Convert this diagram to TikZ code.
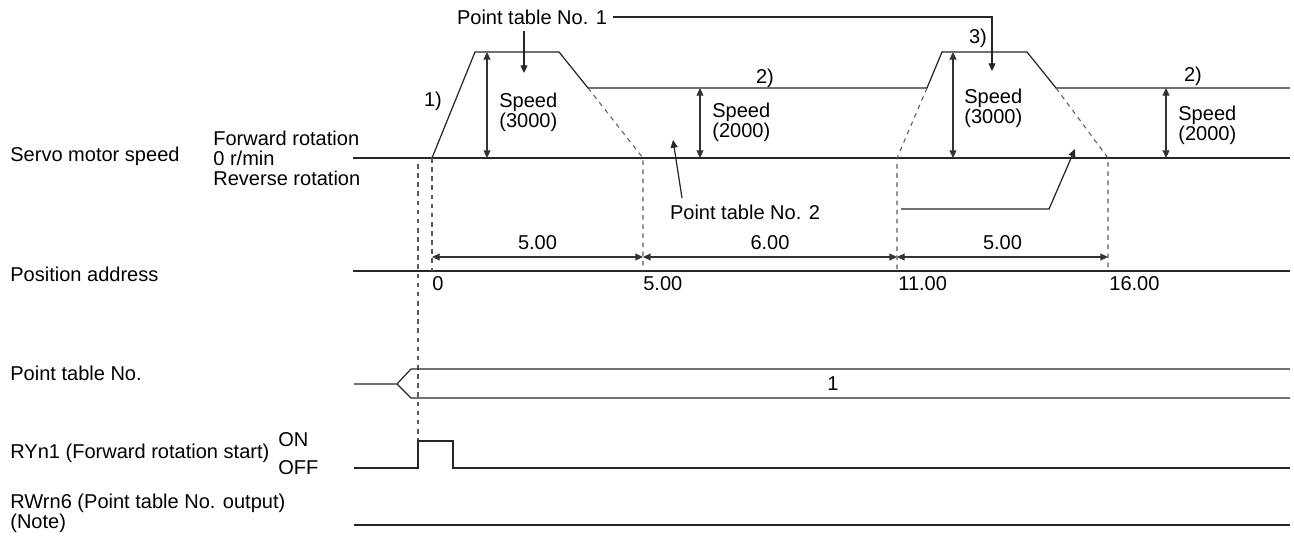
\documentclass[tikz,border=0pt]{standalone}
\usepackage{fontspec}
\setmainfont{Liberation Sans}
\usetikzlibrary{arrows.meta,positioning}

\tikzset{
  >={Triangle[length=4.4pt,width=4pt]},
  sig/.style={line width=0.7pt, black!85},
  dim/.style={line width=0.6pt, black!80},
  guide/.style={line width=0.6pt, black!65, dash pattern=on 2.6pt off 2.6pt},
  txt/.style={inner xsep=0pt, inner ysep=0pt, align=left, text=black},
  note/.style={inner sep=3.5pt, text=black},
}

\begin{document}
\begin{tikzpicture}[x=0.02cm, y=-0.02cm, font=\fontsize{11.4}{11.4}\selectfont]
  \useasboundingbox (0,0) rectangle (1294,547);

  % Row labels
  \node[txt, anchor=west] (lspd) at (10,156) {Servo motor speed};
  \node[txt, anchor=west] (ldir) at (213,158) {Forward rotation\\0 r/min\\Reverse rotation};
  \node[txt, anchor=west] (lpos) at (10,274) {Position address};
  \node[txt, anchor=west] (lptn) at (10,373) {Point table No.};
  \node[txt, anchor=west] (lry) at (10,453) {RYn1 (Forward rotation start)};
  \node[txt, anchor=west] (lon) at (278,440) {ON};
  \node[txt, anchor=west] (loff) at (278,468) {OFF};
  \node[txt, anchor=west] (lrw) at (10,513) {RWrn6 (Point table No. output)\\(Note)};

  % Speed trace
  \coordinate (s0) at (353,158);
  \coordinate (a0) at (432,158);
  \coordinate (a1) at (475,52);
  \coordinate (a2) at (559,52);
  \coordinate (a3) at (588,88);
  \coordinate (b0) at (927,88);
  \coordinate (b1) at (942,52);
  \coordinate (b2) at (1027,52);
  \coordinate (b3) at (1056,88);
  \coordinate (z1) at (643,158);
  \coordinate (z2) at (897,158);
  \coordinate (z3) at (1108,158);
  \draw[sig] (s0) -- (1290,158);
  \draw[sig] (a0) -- (a1) -- (a2) -- (a3) -- (b0) -- (b1) -- (b2) -- (b3) -- (1290,88);

  % Position address
  \coordinate (p0) at (353,271);
  \coordinate (p1) at (1290,271);
  \draw[sig] (p0) -- (p1);
  \node[txt, anchor=west] (x0) at (432,284) {0};
  \node[txt, anchor=west] (x1) at (643,284) {5.00};
  \node[txt, anchor=west] (x2) at (898,284) {11.00};
  \node[txt, anchor=west] (x3) at (1109,284) {16.00};

  % Dashed guides
  \draw[guide] (a3) -- (z1) -- (z1 |- p0);
  \draw[guide] (b0) -- (z2) -- (z2 |- p0);
  \draw[guide] (b3) -- (z3) -- (z3 |- p0);
  \draw[guide] (a0) -- (a0 |- p0);
  \draw[guide] (418,164) -- (418,441);

  % Speed arrows
  \draw[<->, dim] (487,52) -- (487,158);
  \node[txt, anchor=west] (sp1) at (499,112) {Speed\\(3000)};
  \draw[<->, dim] (700,88) -- (700,158);
  \node[txt, anchor=west] (sp2) at (712,122) {Speed\\(2000)};
  \draw[<->, dim] (953,52) -- (953,158);
  \node[txt, anchor=west] (sp3) at (964,108) {Speed\\(3000)};
  \draw[<->, dim] (1166,88) -- (1166,158);
  \node[txt, anchor=west] (sp4) at (1178,125) {Speed\\(2000)};

  % Step marks
  \node[txt] (m1) at (433,101) {1)};
  \node[txt] (m2) at (765,78) {2)};
  \node[txt] (m3) at (978,38) {3)};
  \node[txt] (m4) at (1193,76) {2)};

  % Point table No. 1
  \node[note] (pt1) at (532,17) {Point table No. 1};
  \coordinate (pt1tip) at (524,73);
  \coordinate (pt3tip) at (992,71);
  \draw[->, sig] (pt1.south -| pt1tip) -- (pt1tip);
  \draw[->, sig] (pt1.east) -| (pt3tip);

  % Point table No. 2
  \node[note] (pt2) at (745,212) {Point table No. 2};
  \coordinate (pt2tip) at (673,140);
  \coordinate (pt2a) at (901,209);
  \coordinate (pt2b) at (1075,149);
  \draw[->, sig] ([xshift=-1.26cm]pt2.north) -- (pt2tip);
  \draw[->, sig] (pt2a) -- (1049,209) -- (pt2b);

  % Travel distances
  \coordinate (d0) at (432,257);
  \coordinate (d1) at (643,257);
  \coordinate (d2) at (897,257);
  \coordinate (d3) at (1108,257);
  \draw[<->, dim] (d0) -- node[txt, above=4pt] (dd1) {5.00} (d1);
  \draw[<->, dim] (d1) -- node[txt, above=4pt] (dd2) {6.00} (d2);
  \draw[<->, dim] (d2) -- node[txt, above=4pt] (dd3) {5.00} (d3);

  % Point table No. row
  \draw[sig] (354,384) -- (397,384) -- (411,369) -- (1290,369);
  \draw[sig] (397,384) -- (411,398) -- (1290,398);
  \node[txt] (ptn) at (833,384) {1};

  % RYn1 and RWrn6
  \draw[sig] (354,468) -- (418,468) -- (418,441) -- (453,441) -- (453,468) -- (1290,468);
  \draw[sig] (354,525) -- (1290,525);
\end{tikzpicture}
\end{document}
